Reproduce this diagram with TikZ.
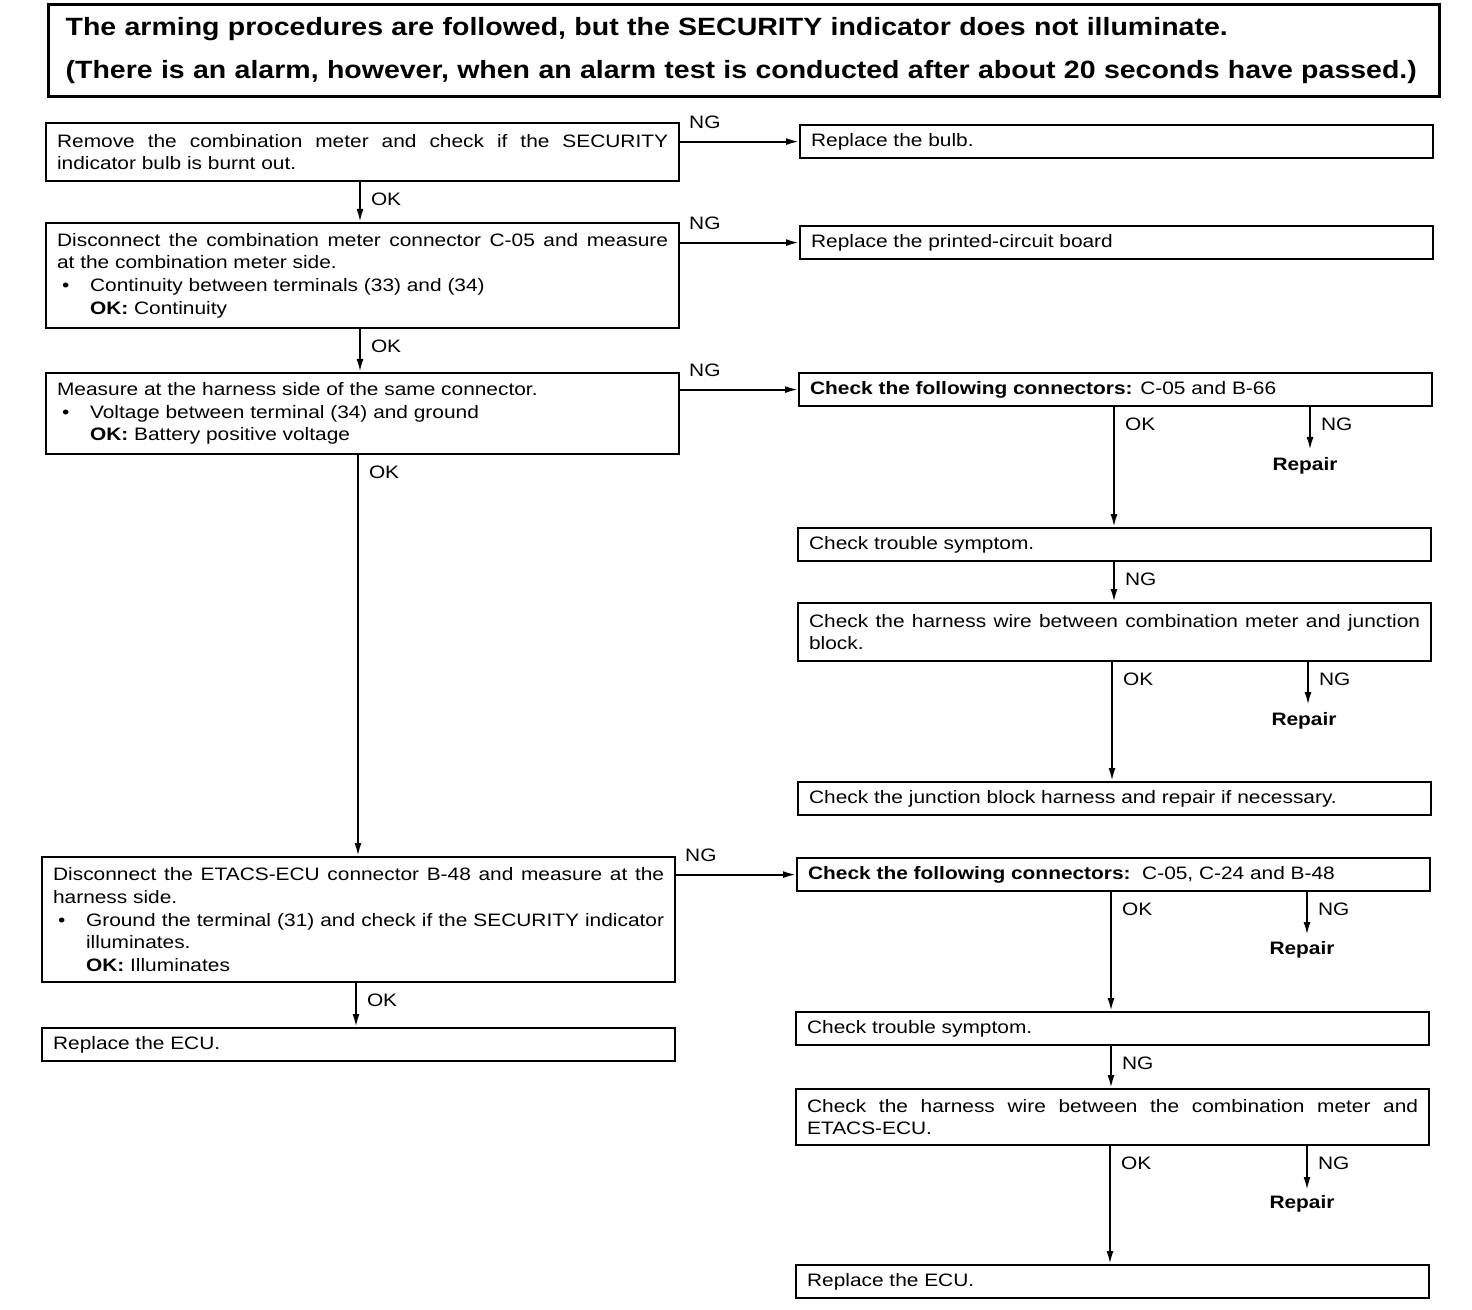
\documentclass[tikz,border=0pt]{standalone}
\usepackage{fontspec}
\setmainfont{Liberation Sans}[FakeStretch=1.16]
\newfontfamily\titlefont{Liberation Sans}[FakeStretch=1.14]
\usetikzlibrary{arrows.meta}
\newcommand{\bodyfont}{\fontsize{9}{11.3}\selectfont}
\newcommand{\bul}[1]{\par\noindent\hangindent=16.5pt\hangafter=1\makebox[16.5pt][l]{\hspace{2.5pt}\textbullet}#1}
\newcommand{\okl}[1]{\par\noindent\hspace*{16.5pt}\textbf{OK:} #1}
\begin{document}
\begin{tikzpicture}[x=0.5pt,y=-0.5pt,
 box/.style={draw, line width=1.1pt, anchor=north west, inner xsep=5.5pt, inner ysep=2pt, text width=305.5pt, align=justify, font=\bodyfont, minimum height=16.5pt},
 arr/.style={line width=1pt, -{Latex[length=6.5pt,width=3.5pt]}},
 lab/.style={font=\bodyfont, inner sep=0pt},
 oklab/.style={lab, pos=0, anchor=base west, xshift=5pt, yshift=-11.5pt},
 nglab/.style={lab, pos=0, anchor=base west, xshift=4pt, yshift=6.5pt},
 rep/.style={font=\bodyfont\bfseries, inner sep=0pt}]
\useasboundingbox (0,0) rectangle (1472,1310);

\node[draw, line width=1.6pt, anchor=north west, minimum width=695.5pt, minimum height=46pt, inner xsep=8.5pt, text width=678.5pt, align=left, font=\titlefont\fontsize{12.5}{21.5}\selectfont\bfseries] (title) at (47,3)
 {The arming procedures are followed, but the SECURITY indicator does not illuminate.\\(There is an alarm, however, when an alarm test is conducted after about 20 seconds have passed.)};

% left column
\node[box, minimum height=29pt] (b1) at (45,122) {Remove the combination meter and check if the SECURITY\linebreak indicator bulb is burnt out.};
\node[box, minimum height=52.5pt] (b2) at (45,222) {Disconnect the combination meter connector C-05 and measure\linebreak at the combination meter side.\bul{Continuity between terminals (33) and (34)}\okl{Continuity}};
\node[box, minimum height=40.5pt] (b3) at (45,372) {Measure at the harness side of the same connector.\bul{Voltage between terminal (34) and ground}\okl{Battery positive voltage}};
\node[box, minimum height=62.5pt] (b4) at (41,856) {Disconnect the ETACS-ECU connector B-48 and measure at the\linebreak harness side.\bul{Ground the terminal (31) and check if the SECURITY indicator\linebreak illuminates.}\okl{Illuminates}};
\node[box] (b5) at (41,1027) {Replace the ECU.};

% right column
\node[box] (r1) at (799,124) {Replace the bulb.};
\node[box] (r2) at (799,225) {Replace the printed-circuit board};
\node[box] (r3) at (798,372) {\textbf{Check the following connectors:} C-05 and B-66};
\node[box] (r4) at (797,527) {Check trouble symptom.};
\node[box, minimum height=29pt] (r5) at (797,602) {Check the harness wire between combination meter and junction\linebreak block.};
\node[box] (r6) at (797,781) {Check the junction block harness and repair if necessary.};
\node[box] (r7) at (796,857) {\textbf{Check the following connectors:}\ \ C-05, C-24 and B-48};
\node[box] (r8) at (795,1011) {Check trouble symptom.};
\node[box, minimum height=28pt] (r9) at (795,1088) {Check the harness wire between the combination meter and\linebreak ETACS-ECU.};
\node[box] (r10) at (795,1264) {Replace the ECU.};

% repair labels
\node[rep] (p1) at (1305,466) {Repair};
\node[rep] (p2) at (1304,721) {Repair};
\node[rep] (p3) at (1302,950) {Repair};
\node[rep] (p4) at (1302,1204) {Repair};

% coordinates
\coordinate (xa) at (360,0);
\coordinate (xb) at (358,0);
\coordinate (xc) at (356,0);
\coordinate (xr1) at (1114,0);
\coordinate (xr2) at (1112,0);
\coordinate (xr3) at (1111,0);
\coordinate (xr4) at (1110,0);
\coordinate (n1) at (1310,450);
\coordinate (n2) at (1308,705);
\coordinate (n3) at (1307,935);
\coordinate (n4) at (1307,1190);

% left verticals
\draw[arr] (b1.south -| xa) -- node[oklab]{OK} (b2.north -| xa);
\draw[arr] (b2.south -| xa) -- node[oklab]{OK} (b3.north -| xa);
\draw[arr] (b3.south -| xb) -- node[oklab]{OK} (b4.north -| xb);
\draw[arr] (b4.south -| xc) -- node[oklab]{OK} (b5.north -| xc);

% horizontals
\draw[arr] (b1.east |- r1.west) -- node[nglab]{NG} (r1.west);
\draw[arr] (b2.east |- r2.west) -- node[nglab]{NG} (r2.west);
\draw[arr] (b3.east |- r3.west) -- node[nglab]{NG} (r3.west);
\draw[arr] (b4.east |- r7.west) -- node[nglab]{NG} (r7.west);

% right verticals
\draw[arr] (r3.south -| xr1) -- node[oklab]{OK} (r4.north -| xr1);
\draw[arr] (r4.south -| xr1) -- node[oklab]{NG} (r5.north -| xr1);
\draw[arr] (r5.south -| xr2) -- node[oklab]{OK} (r6.north -| xr2);
\draw[arr] (r7.south -| xr3) -- node[oklab]{OK} (r8.north -| xr3);
\draw[arr] (r8.south -| xr3) -- node[oklab]{NG} (r9.north -| xr3);
\draw[arr] (r9.south -| xr4) -- node[oklab]{OK} (r10.north -| xr4);

% NG to repair
\draw[arr] (r3.south -| n1) -- node[oklab]{NG} (n1);
\draw[arr] (r5.south -| n2) -- node[oklab]{NG} (n2);
\draw[arr] (r7.south -| n3) -- node[oklab]{NG} (n3);
\draw[arr] (r9.south -| n4) -- node[oklab]{NG} (n4);
\end{tikzpicture}
\end{document}
